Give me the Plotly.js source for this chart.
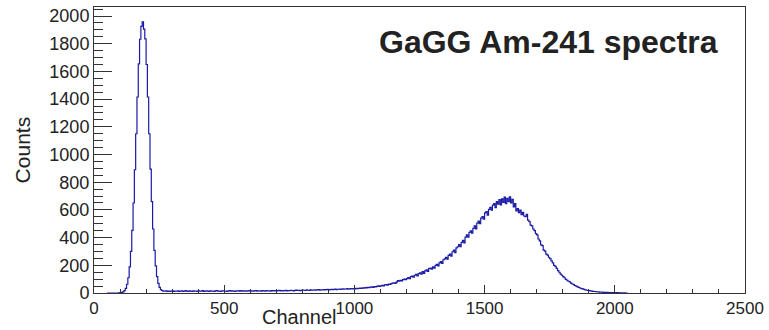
<!DOCTYPE html>
<html>
<head>
<meta charset="utf-8">
<script src="https://cdn.plot.ly/plotly-3.0.1.min.js"></script>
<style>html,body{margin:0;padding:0;background:#fff}#chart{width:769px;height:330px}</style>
</head>
<body>
<div id="chart"></div>
<script>
// Histogram: bins of 5 channels starting at channel 50
const binStart = 50;
const binWidth = 5;
const counts = [
  0,0,0,0,0,0,0,0,0,1,
  2,4,8,17,34,63,110,188,300,452,
  650,890,1150,1415,1655,1832,1925,1958,1905,1835,
  1650,1415,1150,895,660,462,308,196,118,70,
  40,24,18,14,13,15,12,14,11,13,
  15,12,14,13,16,12,13,15,11,14,
  17,13,12,15,14,12,16,13,14,11,
  15,13,14,17,12,13,15,14,12,16,
  13,14,12,15,17,13,14,12,15,16,
  13,14,12,15,17,13,15,14,12,16,
  15,13,17,14,15,13,16,14,15,18,
  14,16,13,15,17,14,16,15,13,17,
  16,14,18,15,16,14,17,15,18,16,
  15,17,19,16,18,15,17,19,16,18,
  17,20,18,16,19,21,18,20,17,19,
  21,20,18,22,20,19,22,21,20,23,
  21,22,24,21,23,22,25,23,24,26,
  23,25,27,24,26,28,25,27,29,26,
  28,30,27,29,31,28,30,32,29,31,
  30,34,31,33,36,34,37,35,39,37,
  40,38,42,44,41,46,44,48,51,47,
  52,55,51,58,60,57,64,62,68,71,
  73,70,78,90,86,92,88,96,100,97,
  104,112,104,118,122,114,128,134,124,140,
  146,136,154,142,160,168,156,176,180,172,
  188,180,199,207,196,218,226,214,240,246,
  258,244,272,280,266,298,310,292,326,334,
  350,334,366,380,362,404,420,404,438,448,
  432,466,484,462,504,520,500,540,552,534,
  578,588,562,604,618,598,634,646,616,660,
  642,674,636,680,654,692,646,684,660,694,
  650,676,622,646,592,610,580,598,566,582,
  556,552,568,526,516,490,484,462,450,428,
  420,390,376,348,342,310,302,280,274,258,
  248,232,218,200,192,178,162,150,136,128,
  118,110,98,92,85,80,72,65,60,54,
  50,44,40,36,32,30,26,23,20,19,
  17,15,13,12,11,10,9,8,7,7,
  6,5,5,4,4,3,3,3,2,2,
  2,1,2,1,1,1,0,1,0,0
];
const chartTitle = "GaGG Am-241 spectra";
const xTitle = "Channel";
const yTitle = "Counts";

const xs = counts.map((c, i) => binStart + i * binWidth);
xs.push(binStart + counts.length * binWidth);
const ys = counts.slice();
ys.push(counts[counts.length - 1]);

const axisColor = '#333';
const fam = 'Liberation Sans, Arial, sans-serif';

const trace = {
  x: xs, y: ys, type: 'scatter', mode: 'lines',
  line: {shape: 'hv', color: '#1a1aa6', width: 1.2},
  hoverinfo: 'skip'
};

const layout = {
  width: 769, height: 330,
  margin: {l: 94, r: 24, t: 7, b: 37},
  paper_bgcolor: '#fff', plot_bgcolor: '#fff',
  showlegend: false,
  xaxis: {
    range: [0, 2500], dtick: 500, tick0: 0,
    showgrid: false, zeroline: false,
    showline: true, mirror: true, linecolor: axisColor, linewidth: 1,
    ticks: 'inside', ticklen: 8, tickcolor: axisColor, tickwidth: 1,
    minor: {dtick: 100, ticks: 'inside', ticklen: 4, tickcolor: axisColor, showgrid: false},
    tickfont: {family: fam, size: 17, color: '#222'}
  },
  yaxis: {
    range: [0, 2065], dtick: 200, tick0: 0,
    showgrid: false, zeroline: false,
    showline: true, mirror: true, linecolor: axisColor, linewidth: 1,
    ticks: 'inside', ticklen: 18, tickcolor: axisColor, tickwidth: 1,
    minor: {dtick: 50, ticks: 'inside', ticklen: 9, tickcolor: axisColor, showgrid: false},
    tickfont: {family: fam, size: 18, color: '#222'}
  },
  annotations: [
    {text: '<b>' + chartTitle + '</b>', xref: 'paper', yref: 'paper', x: 0.435, y: 0.878,
     xanchor: 'left', yanchor: 'middle', showarrow: false,
     font: {family: fam, size: 32, color: '#222'}},
    {text: xTitle, xref: 'paper', yref: 'paper', x: 0.316, y: -0.129,
     xanchor: 'center', yanchor: 'bottom', showarrow: false,
     font: {family: fam, size: 20, color: '#222'}},
    {text: yTitle, xref: 'paper', yref: 'paper', x: -0.11, y: 0.5,
     xanchor: 'center', yanchor: 'middle', showarrow: false, textangle: -90,
     font: {family: fam, size: 21, color: '#222'}}
  ]
};

Plotly.newPlot('chart', [trace], layout, {displayModeBar: false, staticPlot: true});
</script>
</body>
</html>
